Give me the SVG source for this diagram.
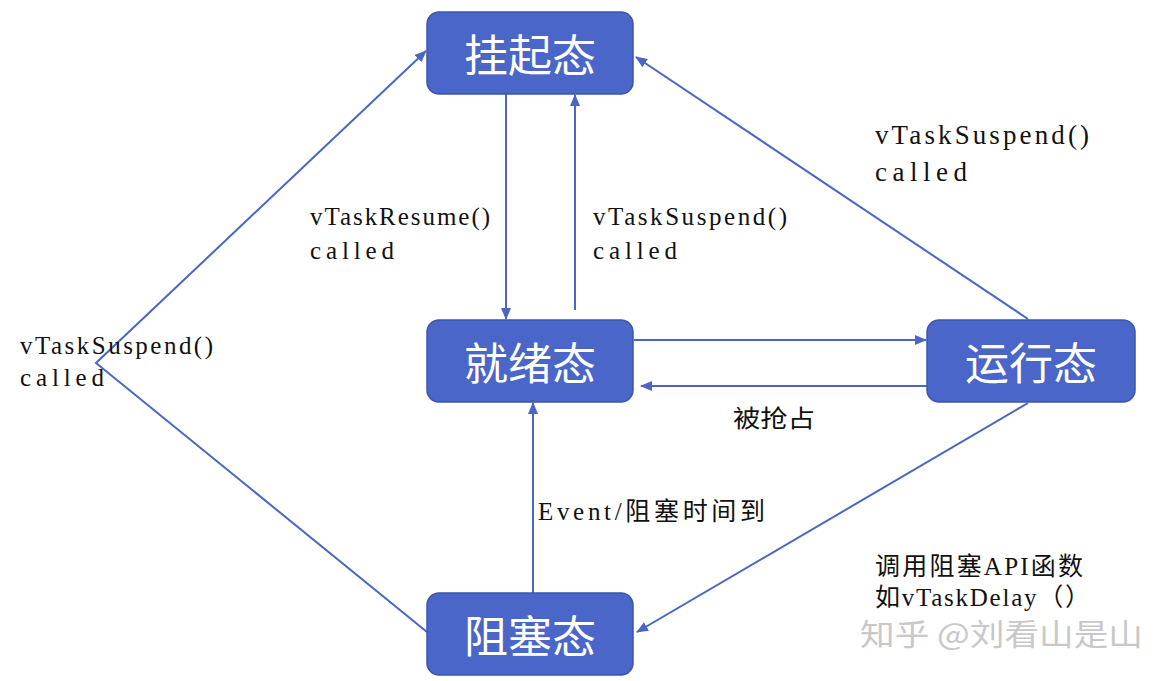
<svg xmlns="http://www.w3.org/2000/svg" width="1176" height="681" viewBox="0 0 1176 681">
<style>
.node rect{fill:#4a66c8;stroke:#3b55ad;stroke-width:1.5}
.node text{fill:#fff;font-family:"Noto Sans CJK SC",sans-serif;font-size:44px;text-anchor:middle;dominant-baseline:central}
.edge{fill:none;stroke:#4a66c2;stroke-width:2}
.lbl{fill:#111;font-family:"Liberation Serif","Noto Sans CJK SC",serif;font-size:25px}
.cn{fill:#111;font-family:"Noto Sans CJK SC",serif;font-size:24px}
.wm{fill:#c8c8c8;font-family:"Noto Sans CJK SC",sans-serif;font-size:30px}
</style>
<defs>
<marker id="ah" markerWidth="12" markerHeight="10" refX="11" refY="5" orient="auto" markerUnits="userSpaceOnUse">
<path d="M0,0 L12,5 L0,10 Z" fill="#4a66c2"/>
</marker>
</defs>
<rect width="1176" height="681" fill="#fff"/>
<g id="connectors">
<line class="edge" x1="506" y1="94" x2="506" y2="319" marker-end="url(#ah)"/>
<line class="edge" x1="575" y1="310" x2="575" y2="95" marker-end="url(#ah)"/>
<line class="edge" x1="634" y1="340" x2="926" y2="340" marker-end="url(#ah)"/>
<line class="edge" x1="927" y1="386" x2="641" y2="386" marker-end="url(#ah)"/>
<line class="edge" x1="533" y1="593" x2="533" y2="403" marker-end="url(#ah)"/>
<line class="edge" x1="1028" y1="319" x2="636" y2="57" marker-end="url(#ah)"/>
<line class="edge" x1="1028" y1="403" x2="637" y2="632" marker-end="url(#ah)"/>
<polyline class="edge" points="427,632 96,363 426,51" marker-end="url(#ah)"/>
</g>
<g id="n-suspended" class="node">
<rect x="427" y="12" width="206" height="82" rx="12"/>
<text x="530" y="53">挂起态</text>
</g>
<g id="n-ready" class="node">
<rect x="427" y="320" width="206" height="82" rx="12"/>
<text x="530" y="361">就绪态</text>
</g>
<g id="n-running" class="node">
<rect x="927" y="320" width="208" height="82" rx="12"/>
<text x="1031" y="361">运行态</text>
</g>
<g id="n-blocked" class="node">
<rect x="427" y="593" width="206" height="82" rx="12"/>
<text x="530" y="634">阻塞态</text>
</g>
<g id="labels">
<text class="lbl" x="20" y="354" textLength="193" lengthAdjust="spacing">vTaskSuspend()</text>
<text class="lbl" x="20" y="386" textLength="84" lengthAdjust="spacing">called</text>
<text class="lbl" x="310" y="225" textLength="180" lengthAdjust="spacing">vTaskResume()</text>
<text class="lbl" x="310" y="259" textLength="84" lengthAdjust="spacing">called</text>
<text class="lbl" x="593" y="225" textLength="194" lengthAdjust="spacing">vTaskSuspend()</text>
<text class="lbl" x="593" y="259" textLength="84" lengthAdjust="spacing">called</text>
<text class="lbl" x="875" y="144" textLength="214" lengthAdjust="spacing" style="font-size:27px">vTaskSuspend()</text>
<text class="lbl" x="875" y="181" textLength="92" lengthAdjust="spacing" style="font-size:27px">called</text>
<text class="cn" x="733" y="427" textLength="82" lengthAdjust="spacingAndGlyphs">被抢占</text>
<text class="lbl" x="538" y="520" textLength="227" lengthAdjust="spacing">Event/阻塞时间到</text>
<text class="lbl" x="875" y="575" textLength="208" lengthAdjust="spacing">调用阻塞API函数</text>
<text class="lbl" x="875" y="606" textLength="215" lengthAdjust="spacing">如vTaskDelay（）</text>
<text class="wm" x="860" y="645" textLength="283" lengthAdjust="spacingAndGlyphs">知乎 @刘看山是山</text>
</g>
</svg>
